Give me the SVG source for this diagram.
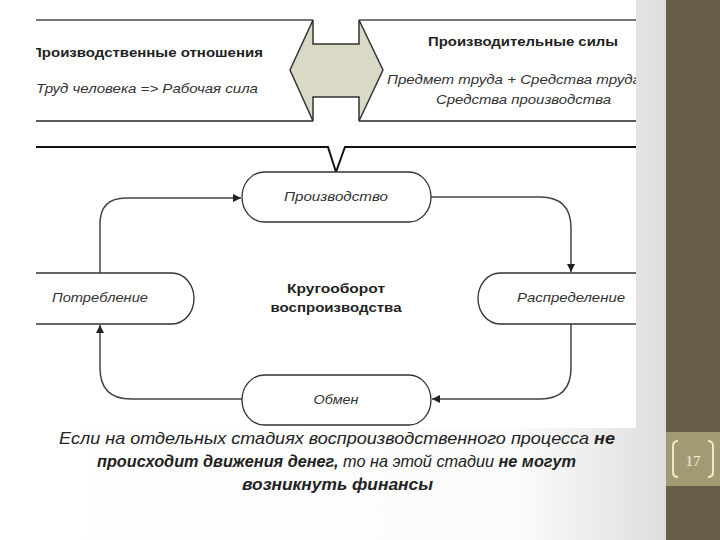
<svg xmlns="http://www.w3.org/2000/svg" width="720" height="540" viewBox="0 0 720 540">
  <defs>
    <linearGradient id="bg" x1="0" y1="0" x2="1" y2="0">
      <stop offset="0" stop-color="#ffffff"/>
      <stop offset="0.78" stop-color="#fbfbfb"/>
      <stop offset="1" stop-color="#dedede"/>
    </linearGradient>
    <clipPath id="imgclip">
      <rect x="36" y="0" width="600" height="430"/>
    </clipPath>
    <marker id="arr" viewBox="0 0 10 10" refX="10" refY="5" markerWidth="8" markerHeight="8" markerUnits="userSpaceOnUse" orient="auto">
      <path d="M0,0 L10,5 L0,10 Z" fill="#222"/>
    </marker>
    <style>
      .node { fill: #ffffff; stroke: #333; stroke-width: 1.3; }
      .conn { fill: none; stroke: #444; stroke-width: 1.5; marker-end: url(#arr); }
      .lbl { font-family: "Liberation Sans", Arial, sans-serif; font-size: 13px; font-style: italic; fill: #333; text-anchor: middle; }
      .hdr { font-family: "Liberation Sans", Arial, sans-serif; font-size: 13px; font-weight: bold; fill: #222; }
      .sub { font-family: "Liberation Sans", Arial, sans-serif; font-size: 13px; font-style: italic; fill: #333; }
      .ctr { font-family: "Liberation Sans", Arial, sans-serif; font-size: 13.5px; font-weight: bold; fill: #222; text-anchor: middle; }
      .cap { font-family: "Liberation Sans", Arial, sans-serif; font-size: 17px; font-style: italic; fill: #222; text-anchor: middle; }
      .b { font-weight: bold; }
    </style>
  </defs>

  <!-- slide background -->
  <rect x="0" y="0" width="666" height="540" fill="url(#bg)"/>
  <rect x="666" y="0" width="54" height="540" fill="#675e47"/>

  <!-- embedded picture area -->
  <rect x="36" y="0" width="600" height="428" fill="#ffffff"/>

  <g id="header" clip-path="url(#imgclip)">
    <line x1="36" y1="20" x2="313" y2="20" stroke="#777" stroke-width="2"/>
    <line x1="359" y1="20" x2="636" y2="20" stroke="#777" stroke-width="2"/>
    <line x1="36" y1="121" x2="313" y2="121" stroke="#222" stroke-width="1.3"/>
    <line x1="359" y1="121" x2="636" y2="121" stroke="#222" stroke-width="1.3"/>
    <text class="hdr" x="31" y="57" textLength="232" lengthAdjust="spacingAndGlyphs">Производственные отношения</text>
    <text class="sub" x="36" y="93" textLength="222" lengthAdjust="spacingAndGlyphs">Труд человека =&gt; Рабочая сила</text>
    <text class="hdr" x="428" y="46" textLength="190" lengthAdjust="spacingAndGlyphs">Производительные силы</text>
    <text class="sub" x="387" y="84" textLength="254" lengthAdjust="spacingAndGlyphs">Предмет труда + Средства труда</text>
    <text class="sub" x="436" y="104" textLength="175" lengthAdjust="spacingAndGlyphs">Средства производства</text>
  </g>

  <g id="double-arrow">
    <path d="M313,20 L313,44 L359,44 L359,20 L383,70 L359,121 L359,97 L313,97 L313,121 L290,70 Z" fill="#dad9c6" stroke="#333" stroke-width="1.5" stroke-linejoin="miter"/>
  </g>

  <g id="separator">
    <path d="M36,147 H328 L336,172 L345,147 H636" fill="none" stroke="#111" stroke-width="2"/>
  </g>

  <g id="connectors">
    <path class="conn" d="M100,273 V224 Q100,198 126,198 H241"/>
    <path class="conn" d="M431,197 H540 Q571,197 571,228 V272"/>
    <path class="conn" d="M571,324 V368 Q571,399 540,399 H432"/>
    <path class="conn" d="M242,399 H131 Q100,399 100,368 V325"/>
  </g>

  <g id="node-production">
    <rect class="node" x="242" y="172" width="189" height="50" rx="22" ry="25"/>
    <text class="lbl" x="336" y="201" textLength="104" lengthAdjust="spacingAndGlyphs">Производство</text>
  </g>

  <g id="node-consumption">
    <path class="node" d="M36,273 H172 A22,25.5 0 0 1 172,324 H36"/>
    <text class="lbl" x="100" y="302" textLength="96" lengthAdjust="spacingAndGlyphs">Потребление</text>
  </g>

  <g id="node-distribution">
    <path class="node" d="M636,273 H500 A22,25.5 0 0 0 500,324 H636"/>
    <text class="lbl" x="571" y="302" textLength="108" lengthAdjust="spacingAndGlyphs">Распределение</text>
  </g>

  <g id="node-exchange">
    <rect class="node" x="242" y="375" width="189" height="50" rx="22" ry="25"/>
    <text class="lbl" x="336" y="404" textLength="45" lengthAdjust="spacingAndGlyphs">Обмен</text>
  </g>

  <g id="center-label">
    <text class="ctr" x="336" y="293" textLength="98" lengthAdjust="spacingAndGlyphs">Кругооборот</text>
    <text class="ctr" x="336" y="312" textLength="131" lengthAdjust="spacingAndGlyphs">воспроизводства</text>
  </g>

  <g id="caption">
    <text class="cap" x="337" y="444" textLength="556" lengthAdjust="spacingAndGlyphs">Если на отдельных стадиях воспроизводственного процесса <tspan class="b">не</tspan></text>
    <text class="cap" x="336.5" y="467" textLength="479" lengthAdjust="spacingAndGlyphs"><tspan class="b">происходит движения денег,</tspan> то на этой стадии <tspan class="b">не могут</tspan></text>
    <text class="cap b" x="337.5" y="490" textLength="191" lengthAdjust="spacingAndGlyphs">возникнуть финансы</text>
  </g>

  <g id="page-number">
    <rect x="666" y="432" width="54" height="54" fill="#a19b73"/>
    <path d="M678,441 Q673,441 673,446 V472 Q673,477 678,477" fill="none" stroke="#efe9cc" stroke-width="2"/>
    <path d="M708,441 Q713,441 713,446 V472 Q713,477 708,477" fill="none" stroke="#efe9cc" stroke-width="2"/>
    <text x="693" y="466" font-family="'Liberation Serif', 'Times New Roman', serif" font-size="15" fill="#f3eed6" text-anchor="middle">17</text>
  </g>
</svg>
